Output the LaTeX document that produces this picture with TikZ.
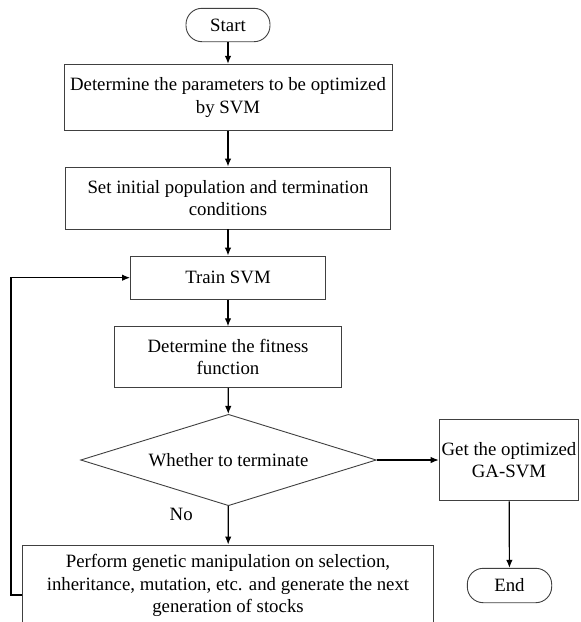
\documentclass[tikz,border=0pt]{standalone}
\usepackage{fontspec}
\setmainfont{Liberation Serif}
\usetikzlibrary{arrows.meta,shapes.geometric}
\begin{document}
\begin{tikzpicture}[x=1pt,y=-1pt,
  every node/.style={font=\fontsize{18.8}{22.6}\selectfont,align=center,inner sep=0pt},
  procbox/.style={rectangle,draw=black!75,line width=0.9pt},
  termbox/.style={rectangle,rounded corners=16pt,draw=black!75,line width=0.9pt},
  decbox/.style={diamond,aspect=3.235,draw=black!75,line width=0.9pt},
  flow/.style={-{Latex[length=8pt,width=6.5pt]},line width=1.2pt}]
    \useasboundingbox (0,0) rectangle (581,622);

    \node[termbox,minimum width=84pt,minimum height=33.4pt] (start) at (228,25) {Start};
    \node[procbox,minimum width=328pt,minimum height=66.4pt] (params) at (228,97.5)
        {Determine the parameters to be optimized\\by SVM};
    \node[procbox,minimum width=325pt,minimum height=62pt] (init) at (228,198)
        {Set initial population and termination\\conditions};
    \node[procbox,minimum width=195pt,minimum height=43.3pt] (train) at (228,277.7) {Train SVM};
    \node[procbox,minimum width=227.4pt,minimum height=60.6pt] (fit) at (228,357)
        {Determine the fitness\\function};
    \node[decbox,minimum width=295.7pt,minimum height=91.4pt] (term) at (228.5,460) {Whether to terminate};
    \node[procbox,minimum width=139.7pt,minimum height=81.7pt] (best) at (509,460)
        {Get the optimized\\GA-SVM};
    \node[termbox,minimum width=84.4pt,minimum height=34.4pt] (finish) at (509.5,585.5) {End};
    \node[procbox,minimum width=410.6pt,minimum height=81pt] (gen) at (228,585.5)
        {Perform genetic manipulation on selection,\\inheritance, mutation, etc. and generate the next\\generation of stocks};
    \coordinate (back) at (11,595);

    \draw[flow] (start) -- (params);
    \draw[flow] (params) -- (init);
    \draw[flow] (init) -- (train);
    \draw[flow] (train) -- (fit);
    \draw[flow] (fit) -- (term);
    \draw[flow] (term) -- (best);
    \draw[flow] (best) -- (finish);
    \draw[flow] (term) -- node[pos=0.21,left=35pt] {No} (gen);
    \draw[flow] (gen.west |- back) -- (back) |- (train.west);
\end{tikzpicture}
\end{document}
